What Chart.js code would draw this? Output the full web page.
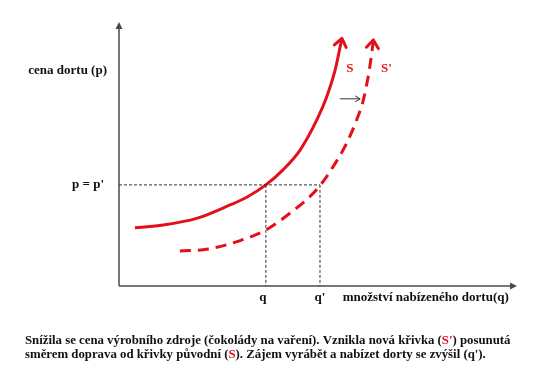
<!DOCTYPE html>
<html>
<head>
<meta charset="utf-8">
<script src="https://cdn.jsdelivr.net/npm/chart.js@4.4.1/dist/chart.umd.min.js"></script>
<style>
html,body{margin:0;padding:0;background:#fff;}
#wrap{width:540px;height:386px;position:relative;}
</style>
</head>
<body>
<div id="wrap"><canvas id="c" width="540" height="386"></canvas></div>
<script>
// ---- data (abstract units: quantity 0..100, price 0..100) ----
const curveNames = ["S", "S'"];
const sQty   = [4.0, 11.1, 19.5, 27.9, 32.1, 36.9, 41.2, 45.5, 49.7, 52.2, 54.3, 55.4, 56.0];
const sPrice = [22.1, 23.1, 25.6, 30.7, 33.6, 38.3, 44.0, 51.5, 62.9, 71.7, 81.8, 89.4, 93.8];
const s2Qty   = [15.3, 22.4, 30.8, 36.9, 43.4, 48.4, 50.5, 53.8, 57.2, 59.7, 61.4, 62.6, 63.5, 63.9];
const s2Price = [13.3, 14.0, 17.4, 21.2, 28.1, 34.5, 38.0, 45.2, 54.1, 62.9, 70.5, 79.3, 88.1, 93.2];
const eqPrice = 38.3;          // p = p'
const eqQty = [36.9, 50.5];    // q, q'
const qLabels = ["q", "q'"];
const pLabel = "p = p'";
const yTitle = "cena dortu (p)";
const xTitle = "množství nabízeného dortu(q)";
const captionLines = [
  [["Snížila se cena výrobního zdroje (čokolády na vaření). Vznikla nová křivka (", 0], ["S'", 1], [") posunutá", 0]],
  [["směrem doprava od křivky původní (", 0], ["S", 1], ["). Zájem vyrábět a nabízet dorty se zvýšil (q').", 0]]
];

const RED = '#e3101b';
const AXIS = '#4a4a4a';
const FONT = 'bold 13px "Liberation Serif", "Times New Roman", serif';
const CAPFONT = 'bold 12.8px "Liberation Serif", "Times New Roman", serif';

function pts(xs, ys){ return xs.map((x,i)=>({x:x, y:ys[i]})); }

const guideData = [
  {x:0, y:eqPrice}, {x:eqQty[1], y:eqPrice}, {x:NaN, y:NaN},
  {x:eqQty[0], y:eqPrice}, {x:eqQty[0], y:0}, {x:NaN, y:NaN},
  {x:eqQty[1], y:eqPrice}, {x:eqQty[1], y:0}
];

function arrowHead(ctx, tipX, tipY, fromX, fromY, len, half, color, width){
  const a = Math.atan2(tipY-fromY, tipX-fromX);
  ctx.save();
  ctx.strokeStyle = color; ctx.lineWidth = width; ctx.lineCap='round'; ctx.lineJoin='round';
  ctx.setLineDash([]);
  ctx.beginPath();
  ctx.moveTo(tipX - len*Math.cos(a) + half*Math.sin(a), tipY - len*Math.sin(a) - half*Math.cos(a));
  ctx.lineTo(tipX, tipY);
  ctx.lineTo(tipX - len*Math.cos(a) - half*Math.sin(a), tipY - len*Math.sin(a) + half*Math.cos(a));
  ctx.stroke();
  ctx.restore();
}

const deco = {
  id:'deco',
  beforeDatasetsDraw(chart){
    const ctx = chart.ctx, xs = chart.scales.x, ys = chart.scales.y;
    const L = xs.getPixelForValue(0), B = ys.getPixelForValue(0);
    const R = xs.getPixelForValue(100), T = ys.getPixelForValue(100);
    ctx.save();
    ctx.strokeStyle = AXIS; ctx.fillStyle = AXIS; ctx.lineWidth = 1.5;
    ctx.beginPath(); ctx.moveTo(L, B); ctx.lineTo(L, T+5); ctx.stroke();
    ctx.beginPath(); ctx.moveTo(L, B); ctx.lineTo(R-5, B); ctx.stroke();
    ctx.beginPath(); ctx.moveTo(L, T); ctx.lineTo(L-3.5, T+7); ctx.lineTo(L+3.5, T+7); ctx.closePath(); ctx.fill();
    ctx.beginPath(); ctx.moveTo(R, B); ctx.lineTo(R-7, B-3.5); ctx.lineTo(R-7, B+3.5); ctx.closePath(); ctx.fill();
    ctx.restore();
  },
  afterDatasetsDraw(chart){
    const ctx = chart.ctx, xs = chart.scales.x, ys = chart.scales.y;
    const L = xs.getPixelForValue(0), B = ys.getPixelForValue(0);
    // curve arrowheads
    [[sQty,sPrice],[s2Qty,s2Price]].forEach(([qx,py])=>{
      const n = qx.length;
      const tx = xs.getPixelForValue(qx[n-1]), ty = ys.getPixelForValue(py[n-1]);
      const fx = xs.getPixelForValue(qx[n-2]), fy = ys.getPixelForValue(py[n-2]);
      arrowHead(ctx, tx, ty, fx, fy, 8, 6, RED, 3);
    });
    ctx.save();
    ctx.font = FONT; ctx.fillStyle = '#111'; ctx.textBaseline = 'middle';
    // y title
    ctx.textAlign = 'right';
    ctx.fillText(yTitle, L-12, ys.getPixelForValue(81.5));
    ctx.fillText(pLabel, L-15, ys.getPixelForValue(eqPrice));
    // q labels
    ctx.textAlign = 'center';
    ctx.fillText(qLabels[0], xs.getPixelForValue(eqQty[0])-3, B+12);
    ctx.fillText(qLabels[1], xs.getPixelForValue(eqQty[1]), B+12);
    ctx.textAlign = 'left';
    ctx.fillText(xTitle, xs.getPixelForValue(56.2), B+12);
    // curve labels
    ctx.fillStyle = RED; ctx.textAlign = 'center';
    ctx.fillText(curveNames[0], xs.getPixelForValue(58.0), ys.getPixelForValue(82.2));
    ctx.fillText(curveNames[1], xs.getPixelForValue(67.2), ys.getPixelForValue(82.2));
    // shift arrow
    const ay = ys.getPixelForValue(70.9);
    const ax0 = xs.getPixelForValue(55.5), ax1 = xs.getPixelForValue(60.6);
    ctx.strokeStyle = '#333'; ctx.lineWidth = 1;
    ctx.beginPath(); ctx.moveTo(ax0, ay); ctx.lineTo(ax1, ay); ctx.stroke();
    ctx.beginPath(); ctx.moveTo(ax1-5, ay-3); ctx.lineTo(ax1, ay); ctx.lineTo(ax1-5, ay+3); ctx.stroke();
    // caption
    ctx.font = CAPFONT;
    ctx.textAlign = 'left';
    captionLines.forEach((line, i)=>{
      let x = 25; const y = 341 + i*14;
      line.forEach(([txt, red])=>{
        ctx.fillStyle = red ? RED : '#111';
        ctx.fillText(txt, x, y);
        x += ctx.measureText(txt).width;
      });
    });
    ctx.restore();
  }
};

new Chart(document.getElementById('c'), {
  type:'scatter',
  data:{
    datasets:[
      {label:'guides', data:guideData, showLine:true, borderColor:'#333', borderWidth:1,
       borderDash:[3,2], pointRadius:0, spanGaps:false, tension:0},
      {label:curveNames[0], data:pts(sQty,sPrice), showLine:true, borderColor:RED, borderWidth:3,
       pointRadius:0, cubicInterpolationMode:'monotone'},
      {label:curveNames[1], data:pts(s2Qty,s2Price), showLine:true, borderColor:RED, borderWidth:3,
       borderDash:[11,7], pointRadius:0, cubicInterpolationMode:'monotone'}
    ]
  },
  options:{
    responsive:false, animation:false,
    layout:{padding:{left:119, right:23, top:22, bottom:100}},
    plugins:{legend:{display:false}, tooltip:{enabled:false}},
    scales:{
      x:{type:'linear', min:0, max:100, display:false},
      y:{type:'linear', min:0, max:100, display:false}
    }
  },
  plugins:[deco]
});
</script>
</body>
</html>
